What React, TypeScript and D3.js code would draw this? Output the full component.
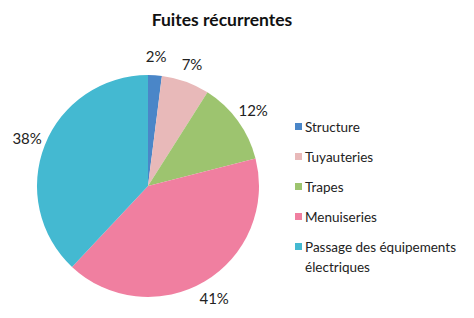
import React from "react";
import * as d3 from "d3";

const categories = ["Structure", "Tuyauteries", "Trapes", "Menuiseries", "Passage des équipements électriques"];
const values = [2, 7, 12, 41, 38];
const colors = ["#4A86C8", "#E8B9B9", "#9DC46F", "#F07FA0", "#44B9D1"];
const legendLines = [["Structure"], ["Tuyauteries"], ["Trapes"], ["Menuiseries"], ["Passage des équipements", "électriques"]];

const W = 474;
const H = 318;
const cx = 148;
const cy = 186;
const R = 111;
const font = "Lato, 'Open Sans', sans-serif";

export default function App() {
  const pie = d3.pie<number>().sort(null).value((d) => d)(values);
  const arc = d3.arc<d3.PieArcDatum<number>>().innerRadius(0).outerRadius(R);
  const labelArc = d3.arc<d3.PieArcDatum<number>>().innerRadius(130).outerRadius(130);
  const legendY = d3.scalePoint<number>().domain(d3.range(categories.length)).range([127, 247]);
  return (
    <svg width={W} height={H} style={{ position: "absolute", left: 0, top: 0, background: "#fff" }} fontFamily={font}>
      <text x={222} y={26} textAnchor="middle" fontSize={17.5} fontWeight="bold" fill="#111">
        Fuites récurrentes
      </text>
      <g transform={`translate(${cx},${cy})`}>
        {pie.map((p, i) => (
          <path key={i} d={arc(p) || ""} fill={colors[i]} />
        ))}
        {pie.map((p, i) => {
          const [x, y] = labelArc.centroid(p);
          return (
            <text key={i} x={x} y={y} textAnchor="middle" dominantBaseline="central" fontSize={15} fill="#222">
              {values[i]}%
            </text>
          );
        })}
      </g>
      {categories.map((c, i) => {
        const y = legendY(i)!;
        return (
          <g key={c}>
            <rect x={295} y={y - 4} width={7} height={7} fill={colors[i]} />
            {legendLines[i].map((line, j) => (
              <text key={j} x={305} y={y + j * 20} dominantBaseline="central" fontSize={13.5} fill="#222">
                {line}
              </text>
            ))}
          </g>
        );
      })}
    </svg>
  );
}
